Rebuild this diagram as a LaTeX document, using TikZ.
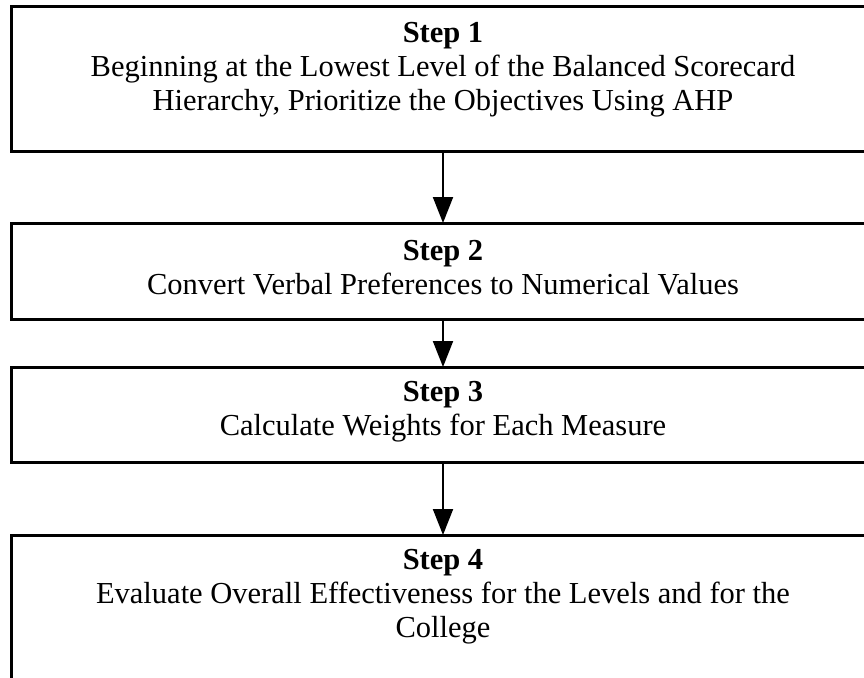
\documentclass[tikz,border=0pt]{standalone}
\usepackage{fontspec}
\setmainfont{Liberation Serif}
\usetikzlibrary{arrows.meta}
\begin{document}
\begin{tikzpicture}[x=1pt,y=-1pt,
  stepframe/.style={draw=black,line width=3pt,rectangle,minimum width=864pt,inner sep=0pt,outer sep=0pt},
  steptext/.style={align=center,font=\fontsize{30.5}{34}\selectfont,inner sep=0pt},
  flow/.style={draw=black,line width=2pt,-{Triangle[width=20pt,length=26pt]}}]
\useasboundingbox (0,0) rectangle (864,677);
\clip (0,0) rectangle (864,677);
\node[stepframe,minimum height=144pt] (b1) at (443,79) {};
\node[stepframe,minimum height=96pt] (b2) at (443,271) {};
\node[stepframe,minimum height=95pt] (b3) at (443,414.5) {};
\node[stepframe,minimum height=146pt] (b4) at (443,608) {};
\node[steptext] (t1) at (443,70) {\textbf{Step 1}\\Beginning at the Lowest Level of the Balanced Scorecard\\Hierarchy, Prioritize the Objectives Using AHP};
\node[steptext] (t2) at (443,268) {\textbf{Step 2}\\Convert Verbal Preferences to Numerical Values};
\node[steptext] (t3) at (443,412) {\textbf{Step 3}\\Calculate Weights for Each Measure};
\node[steptext] (t4) at (443,597) {\textbf{Step 4}\\Evaluate Overall Effectiveness for the Levels and for the\\College};
\draw[flow] (b1.south) -- (b2.north);
\draw[flow] (b2.south) -- (b3.north);
\draw[flow] (b3.south) -- (b4.north);
\end{tikzpicture}
\end{document}
